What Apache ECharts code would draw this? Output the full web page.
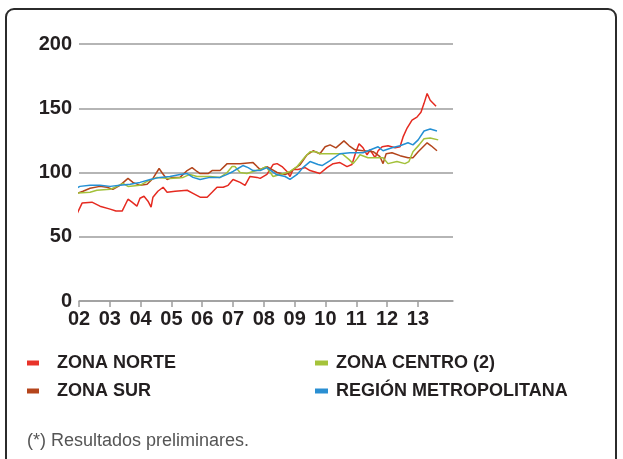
<!DOCTYPE html>
<html>
<head>
<meta charset="utf-8">
<script src="https://cdn.jsdelivr.net/npm/echarts@6/dist/echarts.min.js"></script>
<style>
    html, body { margin: 0; padding: 0; background: #fff; }
    #chart { width: 623px; height: 459px; }
</style>
</head>
<body>
<div id="chart"></div>
<script>
// tick labels of the x axis (years)
var yearTicks = [2002, 2003, 2004, 2005, 2006, 2007, 2008, 2009, 2010, 2011, 2012, 2013];
var yearLabels = ['02', '03', '04', '05', '06', '07', '08', '09', '10', '11', '12', '13'];

// ZONA NORTE
var norteYears = [2001.81, 2002.10, 2002.42, 2002.68, 2003.01, 2003.20, 2003.40, 2003.59, 2003.72, 2003.88,
    2003.98, 2004.11, 2004.24, 2004.34, 2004.40, 2004.56, 2004.73, 2004.86, 2005.12, 2005.51,
    2005.70, 2005.93, 2006.16, 2006.32, 2006.48, 2006.68, 2006.84, 2007.00, 2007.23, 2007.39,
    2007.55, 2007.78, 2007.88, 2008.10, 2008.30, 2008.43, 2008.59, 2008.75, 2008.85, 2008.95,
    2009.11, 2009.34, 2009.50, 2009.82, 2010.05, 2010.25, 2010.47, 2010.70, 2010.86, 2010.99,
    2011.09, 2011.22, 2011.35, 2011.45, 2011.61, 2011.71, 2011.84, 2012.03, 2012.26, 2012.42,
    2012.52, 2012.65, 2012.81, 2012.97, 2013.10, 2013.20, 2013.30, 2013.40, 2013.59];
var norteValues = [61.5, 76.2, 76.9, 73.8, 71.5, 70, 70, 79.2, 76.9, 73.8,
    80, 81.5, 77.7, 73.1, 80.8, 85.4, 88.5, 84.6, 85.4, 86.2,
    83.8, 80.8, 80.8, 84.6, 88.5, 88.5, 90, 94.6, 92.3, 90,
    96.9, 96.2, 95.4, 98.5, 106.2, 106.9, 104.6, 100.8, 96.9, 102.3,
    102.3, 103.8, 101.5, 99.2, 103.8, 106.9, 107.7, 104.6, 106.2, 116.2,
    122.3, 119.2, 113.8, 117.7, 111.5, 116.9, 120, 120.8, 119.2, 120,
    127.7, 134.6, 140.8, 143.1, 146.9, 153.8, 161.5, 156.2, 151.5];

// ZONA CENTRO (2)
var centroYears = [2001.84, 2002.36, 2002.58, 2003.01, 2003.17, 2003.43, 2003.59, 2003.98, 2004.21, 2004.53,
    2004.95, 2005.38, 2005.60, 2005.83, 2006.25, 2006.58, 2006.81, 2006.97, 2007.06, 2007.23,
    2007.45, 2007.65, 2007.88, 2008.07, 2008.30, 2008.53, 2008.85, 2009.08, 2009.34, 2009.50,
    2009.69, 2009.82, 2010.15, 2010.54, 2010.77, 2010.90, 2011.03, 2011.12, 2011.38, 2011.68,
    2011.87, 2012.03, 2012.32, 2012.58, 2012.71, 2012.84, 2013.04, 2013.20, 2013.40, 2013.66];
var centroValues = [83.8, 84.6, 86.2, 86.9, 88.5, 91.5, 89.2, 90, 93.1, 96.2,
    95.4, 96.2, 98.5, 96.9, 96.9, 96.2, 100, 104.6, 104.6, 100,
    99.2, 100.8, 102.3, 104.6, 96.9, 98.5, 100.8, 104.6, 112.3, 116.2,
    116.2, 114.6, 114.6, 114.6, 110, 106.9, 110.8, 113.8, 111.5, 111.5,
    111.5, 106.9, 108.5, 106.9, 108.5, 116.2, 121.5, 126.2, 126.9, 125.4];

// ZONA SUR
var surYears = [2001.84, 2002.13, 2002.36, 2002.68, 2002.91, 2003.10, 2003.33, 2003.59, 2003.75, 2003.98,
    2004.21, 2004.40, 2004.60, 2004.69, 2004.86, 2005.02, 2005.28, 2005.51, 2005.67, 2005.83,
    2005.93, 2006.19, 2006.32, 2006.58, 2006.81, 2007.23, 2007.65, 2007.78, 2007.88, 2008.10,
    2008.43, 2008.69, 2008.85, 2008.95, 2009.18, 2009.40, 2009.60, 2009.82, 2009.99, 2010.15,
    2010.34, 2010.60, 2010.77, 2010.96, 2011.22, 2011.55, 2011.77, 2011.87, 2011.97, 2012.16,
    2012.42, 2012.68, 2012.84, 2013.01, 2013.30, 2013.43, 2013.62];
var surValues = [83.1, 85.4, 87.7, 89.2, 88.5, 86.9, 90, 95.4, 92.3, 90,
    90.8, 95.4, 103.1, 100, 94.6, 96.2, 96.2, 101.5, 103.8, 100.8,
    99.2, 99.2, 101.5, 101.5, 106.9, 106.9, 107.7, 104.6, 102.3, 104.6,
    100, 98.5, 100, 102.3, 106.2, 113.8, 116.9, 114.6, 120, 121.5,
    119.2, 124.6, 120.8, 117.7, 116.9, 116.2, 112.3, 106.9, 114.6, 115.4,
    113.1, 111.5, 111.5, 116.2, 123.1, 120.8, 116.9];

// REGIÓN METROPOLITANA
var metroYears = [2001.84, 2002.03, 2002.36, 2002.68, 2003.01, 2003.33, 2003.66, 2003.98, 2004.31, 2004.63,
    2004.95, 2005.28, 2005.51, 2005.70, 2005.93, 2006.25, 2006.58, 2006.81, 2007.00, 2007.16,
    2007.32, 2007.49, 2007.65, 2007.88, 2008.10, 2008.40, 2008.69, 2008.85, 2009.08, 2009.27,
    2009.50, 2009.76, 2009.89, 2010.15, 2010.47, 2010.80, 2011.22, 2011.71, 2011.87, 2012.16,
    2012.42, 2012.68, 2012.84, 2013.01, 2013.20, 2013.40, 2013.62];
var metroValues = [86.9, 89.2, 90, 90, 89.2, 90, 90.8, 92.3, 94.6, 96.2,
    96.9, 98.5, 99.2, 96.2, 94.6, 96.2, 96.2, 98.5, 100.8, 103.1,
    105.4, 103.8, 101.5, 101.5, 103.8, 98.5, 96.9, 94.6, 98.5, 103.8,
    108.5, 106.2, 105.4, 109.2, 114.6, 115.4, 115.4, 120, 116.9, 119.2,
    120.8, 123.1, 121.5, 125.4, 132.3, 133.8, 132.3];

function pares(xs, ys) {
    return xs.map(function (x, i) {
        return [x, ys[i]];
    });
}

var chart = echarts.init(document.getElementById('chart'));

var legendText = {
    fontFamily: 'Liberation Sans',
    fontWeight: 'bold',
    fontSize: 18,
    color: '#231f20'
};

option = {
    backgroundColor: '#fff',
    animation: false,
    grid: {
        left: 79,
        right: 170,
        top: 44,
        bottom: 158
    },
    xAxis: {
        type: 'value',
        min: 2002,
        max: 2014.14,
        splitLine: { show: false },
        axisLine: {
            lineStyle: { color: '#9d9d9d', width: 1.5 }
        },
        axisTick: {
            customValues: yearTicks,
            length: 6,
            lineStyle: { color: '#9d9d9d', width: 1.5 }
        },
        axisLabel: {
            customValues: yearTicks,
            margin: 8,
            fontFamily: 'Liberation Sans',
            fontWeight: 'bold',
            fontSize: 20,
            color: '#231f20',
            formatter: function (v) {
                return yearLabels[yearTicks.indexOf(Math.round(v))];
            }
        }
    },
    yAxis: {
        type: 'value',
        min: 0,
        max: 200,
        interval: 50,
        axisLine: { show: false },
        axisTick: { show: false },
        axisLabel: {
            margin: 7,
            fontFamily: 'Liberation Sans',
            fontWeight: 'bold',
            fontSize: 20,
            color: '#231f20'
        },
        splitLine: {
            lineStyle: { color: '#9d9d9d', width: 1.5 }
        }
    },
    // dos columnas de leyenda
    legend: [{
        left: 22,
        top: 349,
        orient: 'vertical',
        icon: 'rect',
        itemWidth: 12,
        itemHeight: 5,
        itemGap: 10,
        textStyle: Object.assign({ padding: [0, 0, 0, 13] }, legendText),
        data: ['ZONA NORTE', 'ZONA SUR']
    }, {
        left: 310,
        top: 349,
        orient: 'vertical',
        icon: 'rect',
        itemWidth: 13,
        itemHeight: 5,
        itemGap: 10,
        textStyle: Object.assign({ padding: [0, 0, 0, 3] }, legendText),
        data: ['ZONA CENTRO (2)', 'REGIÓN METROPOLITANA']
    }],
    graphic: [{
        type: 'rect',
        shape: { x: 6, y: 9, width: 610, height: 480, r: 8 },
        style: { fill: 'none', stroke: '#2b2b2b', lineWidth: 2 },
        silent: true
    }, {
        type: 'text',
        left: 27,
        top: 432,
        style: {
            text: '(*) Resultados preliminares.',
            font: '18px "Liberation Sans"',
            fill: '#555'
        }
    }],
    series: [{
        name: 'ZONA NORTE',
        type: 'line',
        data: pares(norteYears, norteValues),
        showSymbol: false,
        clip: false,
        color: '#e8332a',
        lineStyle: { width: 1.5, color: '#e52a20' }
    }, {
        name: 'ZONA SUR',
        type: 'line',
        data: pares(surYears, surValues),
        showSymbol: false,
        clip: false,
        color: '#b5451c',
        lineStyle: { width: 1.5, color: '#b3441b' }
    }, {
        name: 'ZONA CENTRO (2)',
        type: 'line',
        data: pares(centroYears, centroValues),
        showSymbol: false,
        clip: false,
        color: '#a5c33a',
        lineStyle: { width: 1.5, color: '#a3c13a' }
    }, {
        name: 'REGIÓN METROPOLITANA',
        type: 'line',
        data: pares(metroYears, metroValues),
        showSymbol: false,
        clip: false,
        color: '#2a8fd2',
        lineStyle: { width: 1.5, color: '#2490d4' }
    }]
};
chart.setOption(option);
</script>
</body>
</html>
